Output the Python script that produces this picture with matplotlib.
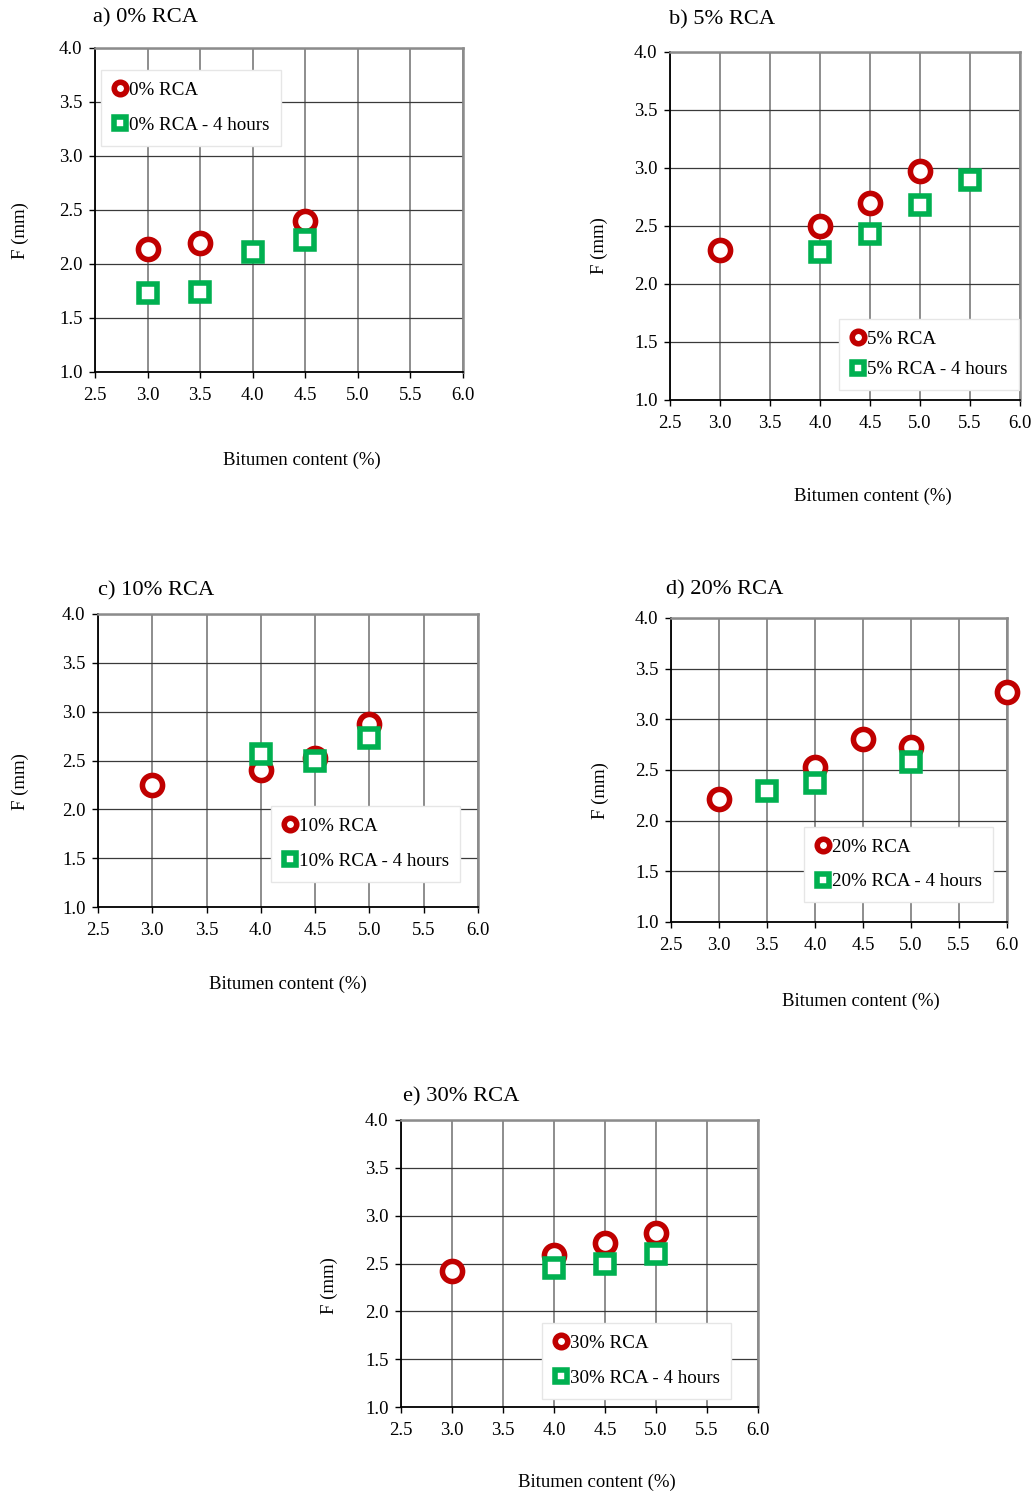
import numpy as np
import matplotlib
matplotlib.use('Agg')
import matplotlib.pyplot as plt

# F (mm) vs bitumen content for each RCA level, fresh and after 4 hours
bit_0 = [3.0, 3.5, 4.5]
f_0 = [2.14, 2.19, 2.40]
bit_0_4h = [3.0, 3.5, 4.0, 4.5]
f_0_4h = [1.73, 1.74, 2.11, 2.22]

bit_5 = [3.0, 4.0, 4.5, 5.0]
f_5 = [2.29, 2.50, 2.70, 2.97]
bit_5_4h = [4.0, 4.5, 5.0, 5.5]
f_5_4h = [2.28, 2.43, 2.68, 2.90]

bit_10 = [3.0, 4.0, 4.5, 5.0]
f_10 = [2.25, 2.40, 2.53, 2.87]
bit_10_4h = [4.0, 4.5, 5.0]
f_10_4h = [2.57, 2.50, 2.73]

bit_20 = [3.0, 4.0, 4.5, 5.0, 6.0]
f_20 = [2.21, 2.53, 2.81, 2.73, 3.27]
bit_20_4h = [3.5, 4.0, 5.0]
f_20_4h = [2.29, 2.37, 2.58]

bit_30 = [3.0, 4.0, 4.5, 5.0]
f_30 = [2.42, 2.59, 2.71, 2.82]
bit_30_4h = [4.0, 4.5, 5.0]
f_30_4h = [2.45, 2.49, 2.60]

rca_names = ['0% RCA', '5% RCA', '10% RCA', '20% RCA', '30% RCA']
panel_tags = ['a)', 'b)', 'c)', 'd)', 'e)']

W, H = 1034, 1494
plt.rcParams['font.family'] = 'Liberation Serif'
fig = plt.figure(figsize=(W / 100, H / 100), dpi=100)

RED = '#C00000'
GREEN = '#00B050'


def fx(x):
    return x / W


def fy(y):
    return 1 - y / H


def panel(box, series, name, tag, title_xy, xlab_xy, ylab_xy, leg_xy, leg_space):
    l, t, r, b = box
    ax = fig.add_axes([fx(l), fy(b), fx(r - l), (b - t) / H])
    (x1, y1), (x2, y2) = series
    ax.plot(x1, y1, 'o', ms=14.5, mfc='white', mec=RED, mew=4, ls='none',
            label=name, zorder=3, clip_on=False)
    ax.plot(x2, y2, 's', ms=13, mfc='white', mec=GREEN, mew=4, ls='none',
            label=name + ' - 4 hours', zorder=4, clip_on=False)
    ax.set_xlim(2.5, 6.0)
    ax.set_ylim(1.0, 4.0)
    ax.set_xticks(np.arange(2.5, 6.01, 0.5))
    ax.set_yticks(np.arange(1.0, 4.01, 0.5))
    ax.set_xticklabels(['%.1f' % v for v in np.arange(2.5, 6.01, 0.5)])
    ax.set_yticklabels(['%.1f' % v for v in np.arange(1.0, 4.01, 0.5)])
    ax.xaxis.grid(True, color='#858585', lw=1.3)
    ax.yaxis.grid(True, color='#3a3a3a', lw=0.9)
    ax.set_axisbelow(True)
    ax.tick_params(direction='out', length=4, width=1, labelsize=13.5, pad=5)
    ax.tick_params(axis='x', pad=7)
    for s in ['left', 'bottom']:
        ax.spines[s].set_color('black')
        ax.spines[s].set_linewidth(1.3)
    for s in ['top', 'right']:
        ax.spines[s].set_color('#8c8c8c')
        ax.spines[s].set_linewidth(1.8)
    leg = ax.legend(loc='upper left', bbox_to_anchor=(fx(leg_xy[0]), fy(leg_xy[1])),
                    bbox_transform=fig.transFigure, borderaxespad=0, fontsize=13.7,
                    markerscale=0.62, handlelength=0.8, handletextpad=0.05,
                    labelspacing=leg_space, borderpad=0.6, fancybox=False,
                    framealpha=1, edgecolor='#e6e6e6')
    leg.set_zorder(5)
    fig.text(fx(title_xy[0]), fy(title_xy[1]), tag + ' ' + name, fontsize=16.2,
             ha='left', va='center')
    fig.text(fx(xlab_xy[0]), fy(xlab_xy[1]), 'Bitumen content (%)', fontsize=13.5,
             ha='center', va='center')
    fig.text(fx(ylab_xy[0]), fy(ylab_xy[1]), 'F (mm)', fontsize=13.5,
             ha='center', va='center', rotation=90)
    return ax


panel((95, 48, 463, 372), [(bit_0, f_0), (bit_0_4h, f_0_4h)], rca_names[0], panel_tags[0],
      (93, 18), (302, 460), (20, 231), (101, 70), 0.95)
panel((670, 52, 1020, 400), [(bit_5, f_5), (bit_5_4h, f_5_4h)], rca_names[1], panel_tags[1],
      (669, 20), (873, 496), (599, 246), (839, 319), 0.7)
panel((98, 614, 478, 907), [(bit_10, f_10), (bit_10_4h, f_10_4h)], rca_names[2], panel_tags[2],
      (98, 591), (288, 984), (20, 782), (271, 806), 0.95)
panel((671, 618, 1007, 922), [(bit_20, f_20), (bit_20_4h, f_20_4h)], rca_names[3], panel_tags[3],
      (666, 590), (861, 1001), (600, 791), (804, 827), 0.9)
panel((401, 1120, 758, 1407), [(bit_30, f_30), (bit_30_4h, f_30_4h)], rca_names[4], panel_tags[4],
      (403, 1097), (597, 1482), (329, 1286), (542, 1323), 0.95)

plt.savefig('out.png', dpi=100)
